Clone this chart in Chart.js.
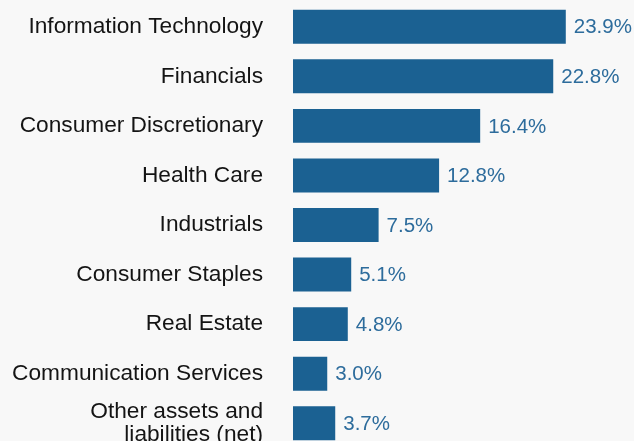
<!DOCTYPE html>
<html>
<head>
<meta charset="utf-8">
<script src="https://cdn.jsdelivr.net/npm/chart.js@4"></script>
<style>
  html, body { margin: 0; padding: 0; background: #f8f8f8; overflow: hidden; }
  #wrap { position: relative; width: 634px; height: 448px; }
</style>
</head>
<body>
<div id="wrap"><canvas id="myChart"></canvas></div>
<script>
'use strict';

let sectors = [
  'Information Technology',
  'Financials',
  'Consumer Discretionary',
  'Health Care',
  'Industrials',
  'Consumer Staples',
  'Real Estate',
  'Communication Services',
  ['Other assets and', 'liabilities (net)']
];
let weights = [23.9, 22.8, 16.4, 12.8, 7.5, 5.1, 4.8, 3.0, 3.7];

let barColor = '#1b6192';
let labelColor = '#2d6c9c';

// value text after each bar
let valueLabels = {
  id: 'valueLabels',
  afterDatasetsDraw(chart) {
    let ctx = chart.ctx;
    let meta = chart.getDatasetMeta(0);
    ctx.save();
    ctx.font = '20.5px "Liberation Sans", Arial, sans-serif';
    ctx.fillStyle = labelColor;
    ctx.textBaseline = 'middle';
    ctx.textAlign = 'left';
    meta.data.forEach(function (bar, i) {
      ctx.fillText(weights[i].toFixed(1) + '%', bar.x + 8, bar.y + 1);
    });
    ctx.restore();
  }
};

const config = {
  type: 'bar',
  data: {
    labels: sectors,
    datasets: [{
      data: weights,
      backgroundColor: barColor,
      borderWidth: 0,
      categoryPercentage: 1,
      barPercentage: 0.685
    }]
  },
  options: {
    indexAxis: 'y',
    responsive: true,
    maintainAspectRatio: false,
    animation: false,
    layout: { padding: { top: 2, right: 10, bottom: 0, left: 0 } },
    plugins: {
      legend: { display: false },
      tooltip: { enabled: false }
    },
    scales: {
      x: { display: false, min: 0, max: 29 },
      y: {
        grid: { display: false, drawTicks: false },
        border: { display: false },
        ticks: {
          color: '#141414',
          padding: 30,
          font: { family: '"Liberation Sans", Arial, sans-serif', size: 22.7, lineHeight: 1.02 }
        },
        afterFit(scale) {
          scale.width = 293;
          scale.paddingTop = 0;
          scale.paddingBottom = 0;
        }
      }
    }
  },
  plugins: [valueLabels]
};

const myChart = new Chart(document.getElementById('myChart'), config);
</script>
</body>
</html>
